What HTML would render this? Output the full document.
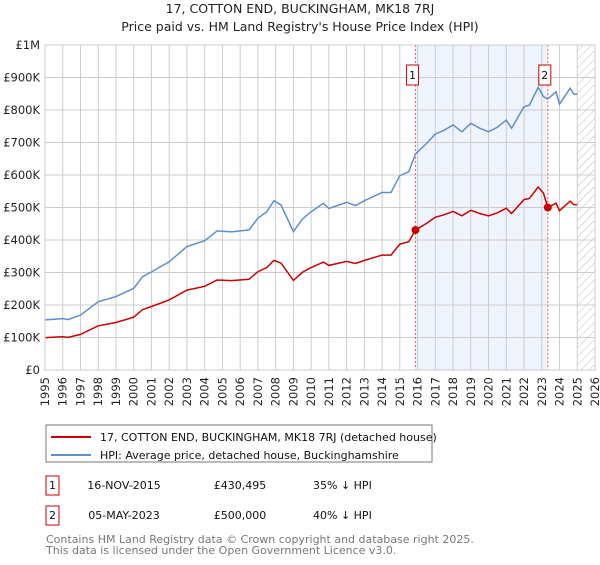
<!DOCTYPE html>
<html><head><meta charset="utf-8"><style>
body{margin:0;background:#fff;font-family:"Liberation Sans","DejaVu Sans",sans-serif}
svg text{font-family:"DejaVu Sans","Liberation Sans",sans-serif}
</style></head><body>
<svg width="600" height="560" viewBox="0 0 600 560" xmlns="http://www.w3.org/2000/svg">
<defs><pattern id="hatch" width="6" height="6" patternUnits="userSpaceOnUse" patternTransform="rotate(45)"><line x1="0" y1="0" x2="0" y2="6" stroke="#bbb" stroke-width="1"/></pattern></defs>
<text x="300" y="13" text-anchor="middle" font-size="12.5" fill="#222">17, COTTON END, BUCKINGHAM, MK18 7RJ</text>
<text x="300" y="31" text-anchor="middle" font-size="12.5" fill="#222">Price paid vs. HM Land Registry's House Price Index (HPI)</text>
<g id="grid"></g><g id="plot"></g><g id="axes"></g>
<g>
<rect x="46" y="425" width="386" height="37" fill="#fff" stroke="#777"/>
<line x1="51" y1="437" x2="91" y2="437" stroke="#cc0000" stroke-width="2"/>
<text x="100" y="441" font-size="11" fill="#111">17, COTTON END, BUCKINGHAM, MK18 7RJ (detached house)</text>
<line x1="51" y1="455" x2="91" y2="455" stroke="#5b8fd0" stroke-width="2"/>
<text x="100" y="459" font-size="11" fill="#111">HPI: Average price, detached house, Buckinghamshire</text>
</g>
<g font-size="11" fill="#111">
<rect x="46" y="476" width="13" height="19" fill="#fff" stroke="#cc0000"/><text x="52.5" y="489" text-anchor="middle">1</text>
<text x="124" y="489" text-anchor="middle">16-NOV-2015</text><text x="240" y="489" text-anchor="middle">£430,495</text><text x="313" y="489">35% ↓ HPI</text>
<rect x="46" y="506" width="13" height="19" fill="#fff" stroke="#cc0000"/><text x="52.5" y="519" text-anchor="middle">2</text>
<text x="124" y="519" text-anchor="middle">05-MAY-2023</text><text x="240" y="519" text-anchor="middle">£500,000</text><text x="313" y="519">40% ↓ HPI</text>
</g>
<text x="46" y="543" font-size="11" fill="#777">Contains HM Land Registry data © Crown copyright and database right 2025.</text>
<text x="46" y="554" font-size="11" fill="#777">This data is licensed under the Open Government Licence v3.0.</text>
</svg>
<script>
const hpiYears=[1995,1996,1996.3,1997,1998,1999,2000,2000.5,2001,2002,2003,2004,2004.7,2005.5,2006.5,2007,2007.5,2007.9,2008.3,2009,2009.5,2010,2010.7,2011,2012,2012.5,2013,2014,2014.5,2015,2015.5,2015.88,2016.5,2017,2017.5,2018,2018.5,2019,2019.5,2020,2020.5,2021,2021.3,2022,2022.3,2022.8,2023.1,2023.34,2023.8,2024,2024.6,2024.8,2025];
const hpiValues=[154,158,155,169,210,226,251,287,302,333,380,398,428,425,431,467,487,521,508,426,464,487,513,497,516,506,521,546,546,598,610,665,697,726,738,754,733,759,744,733,747,769,744,810,815,870,841,834,856,818,867,849,849];
const saleYears=[2015.88,2023.34];
const salePrices=[430495,500000];
const saleLabels=["1","2"];
const yTicks=[0,100,200,300,400,500,600,700,800,900,1000];
const yTickLabels=["£0","£100K","£200K","£300K","£400K","£500K","£600K","£700K","£800K","£900K","£1M"];
const x0=45,x1=595,y0=370,y1=45;
const X=y=>x0+(y-1995)/31*(x1-x0);
const Y=v=>y0-v/1000*(y0-y1);
const NS="http://www.w3.org/2000/svg";
function mk(t,a,p){const e=document.createElementNS(NS,t);for(const k in a)e.setAttribute(k,a[k]);p.appendChild(e);return e;}
const grid=document.getElementById('grid'),plot=document.getElementById('plot'),axes=document.getElementById('axes');
const shade=mk('rect',{x:X(saleYears[0]),y:y1,width:X(saleYears[1])-X(saleYears[0]),height:y0-y1,fill:'#eef3fc'},grid);


const hat=mk('rect',{x:X(2025),y:y1,width:x1-X(2025),height:y0-y1,fill:'url(#hatch)'},grid);


for(let yr=1995;yr<=2026;yr++){
 const l=mk('line',{x1:X(yr),x2:X(yr),y1:y1,y2:y0,stroke:'#ccc','stroke-width':1},grid);
 
 
 const t=mk('text',{x:0,y:0,'font-size':11.5,fill:'#222','text-anchor':'end',transform:`translate(${X(yr)+4},${y0+7}) rotate(-90)`},axes);
 t.textContent=yr;
 
 
}
yTicks.forEach((v,i)=>{
 const l=mk('line',{x1:x0,x2:x1,y1:Y(v),y2:Y(v),stroke:'#ccc','stroke-width':1},grid);
 
 
 const t=mk('text',{x:x0-5,y:Y(v)+4,'font-size':11.5,fill:'#222','text-anchor':'end'},axes);
 t.textContent=yTickLabels[i];
 
 
});
function hpiAt(yr){for(let i=1;i<hpiYears.length;i++){if(yr<=hpiYears[i]){const f=(yr-hpiYears[i-1])/(hpiYears[i]-hpiYears[i-1]);return hpiValues[i-1]+f*(hpiValues[i]-hpiValues[i-1]);}}return hpiValues[hpiValues.length-1];}
const r0=salePrices[0]/1000/hpiAt(saleYears[0]),r1=salePrices[1]/1000/hpiAt(saleYears[1]);
const bp=hpiYears.map((y,i)=>`${X(y).toFixed(1)},${Y(hpiValues[i]).toFixed(1)}`).join(' ');
const rp=hpiYears.map((y,i)=>`${X(y).toFixed(1)},${Y(hpiValues[i]*(y<saleYears[1]?r0:r1)).toFixed(1)}`).join(' ');
const hl=mk('polyline',{points:bp,fill:'none',stroke:'#5b8fd0','stroke-width':1.5},plot);


const pl=mk('polyline',{points:rp,fill:'none',stroke:'#cc0000','stroke-width':1.5},plot);


saleYears.forEach((yr,i)=>{
 const v=mk('line',{x1:X(yr),x2:X(yr),y1:y1,y2:y0,stroke:'#f06060','stroke-dasharray':'2,2','stroke-width':1},plot);
 
 
 const c=mk('circle',{cx:X(yr),cy:Y(salePrices[i]/1000),r:4,fill:'#cc0000'},plot);
 
 
 const b=mk('rect',{x:X(yr)-9,y:65,width:12,height:20,fill:'#fff',stroke:'#cc0000'},plot);
 
 
 const t=mk('text',{x:X(yr)-3,y:79,'font-size':11,'text-anchor':'middle',fill:'#111'},plot);
 t.textContent=saleLabels[i];
 
 
});
const ax=mk('rect',{x:x0,y:y1,width:x1-x0,height:y0-y1,fill:'none',stroke:'#ccc'},axes);


</script>
</body></html>
